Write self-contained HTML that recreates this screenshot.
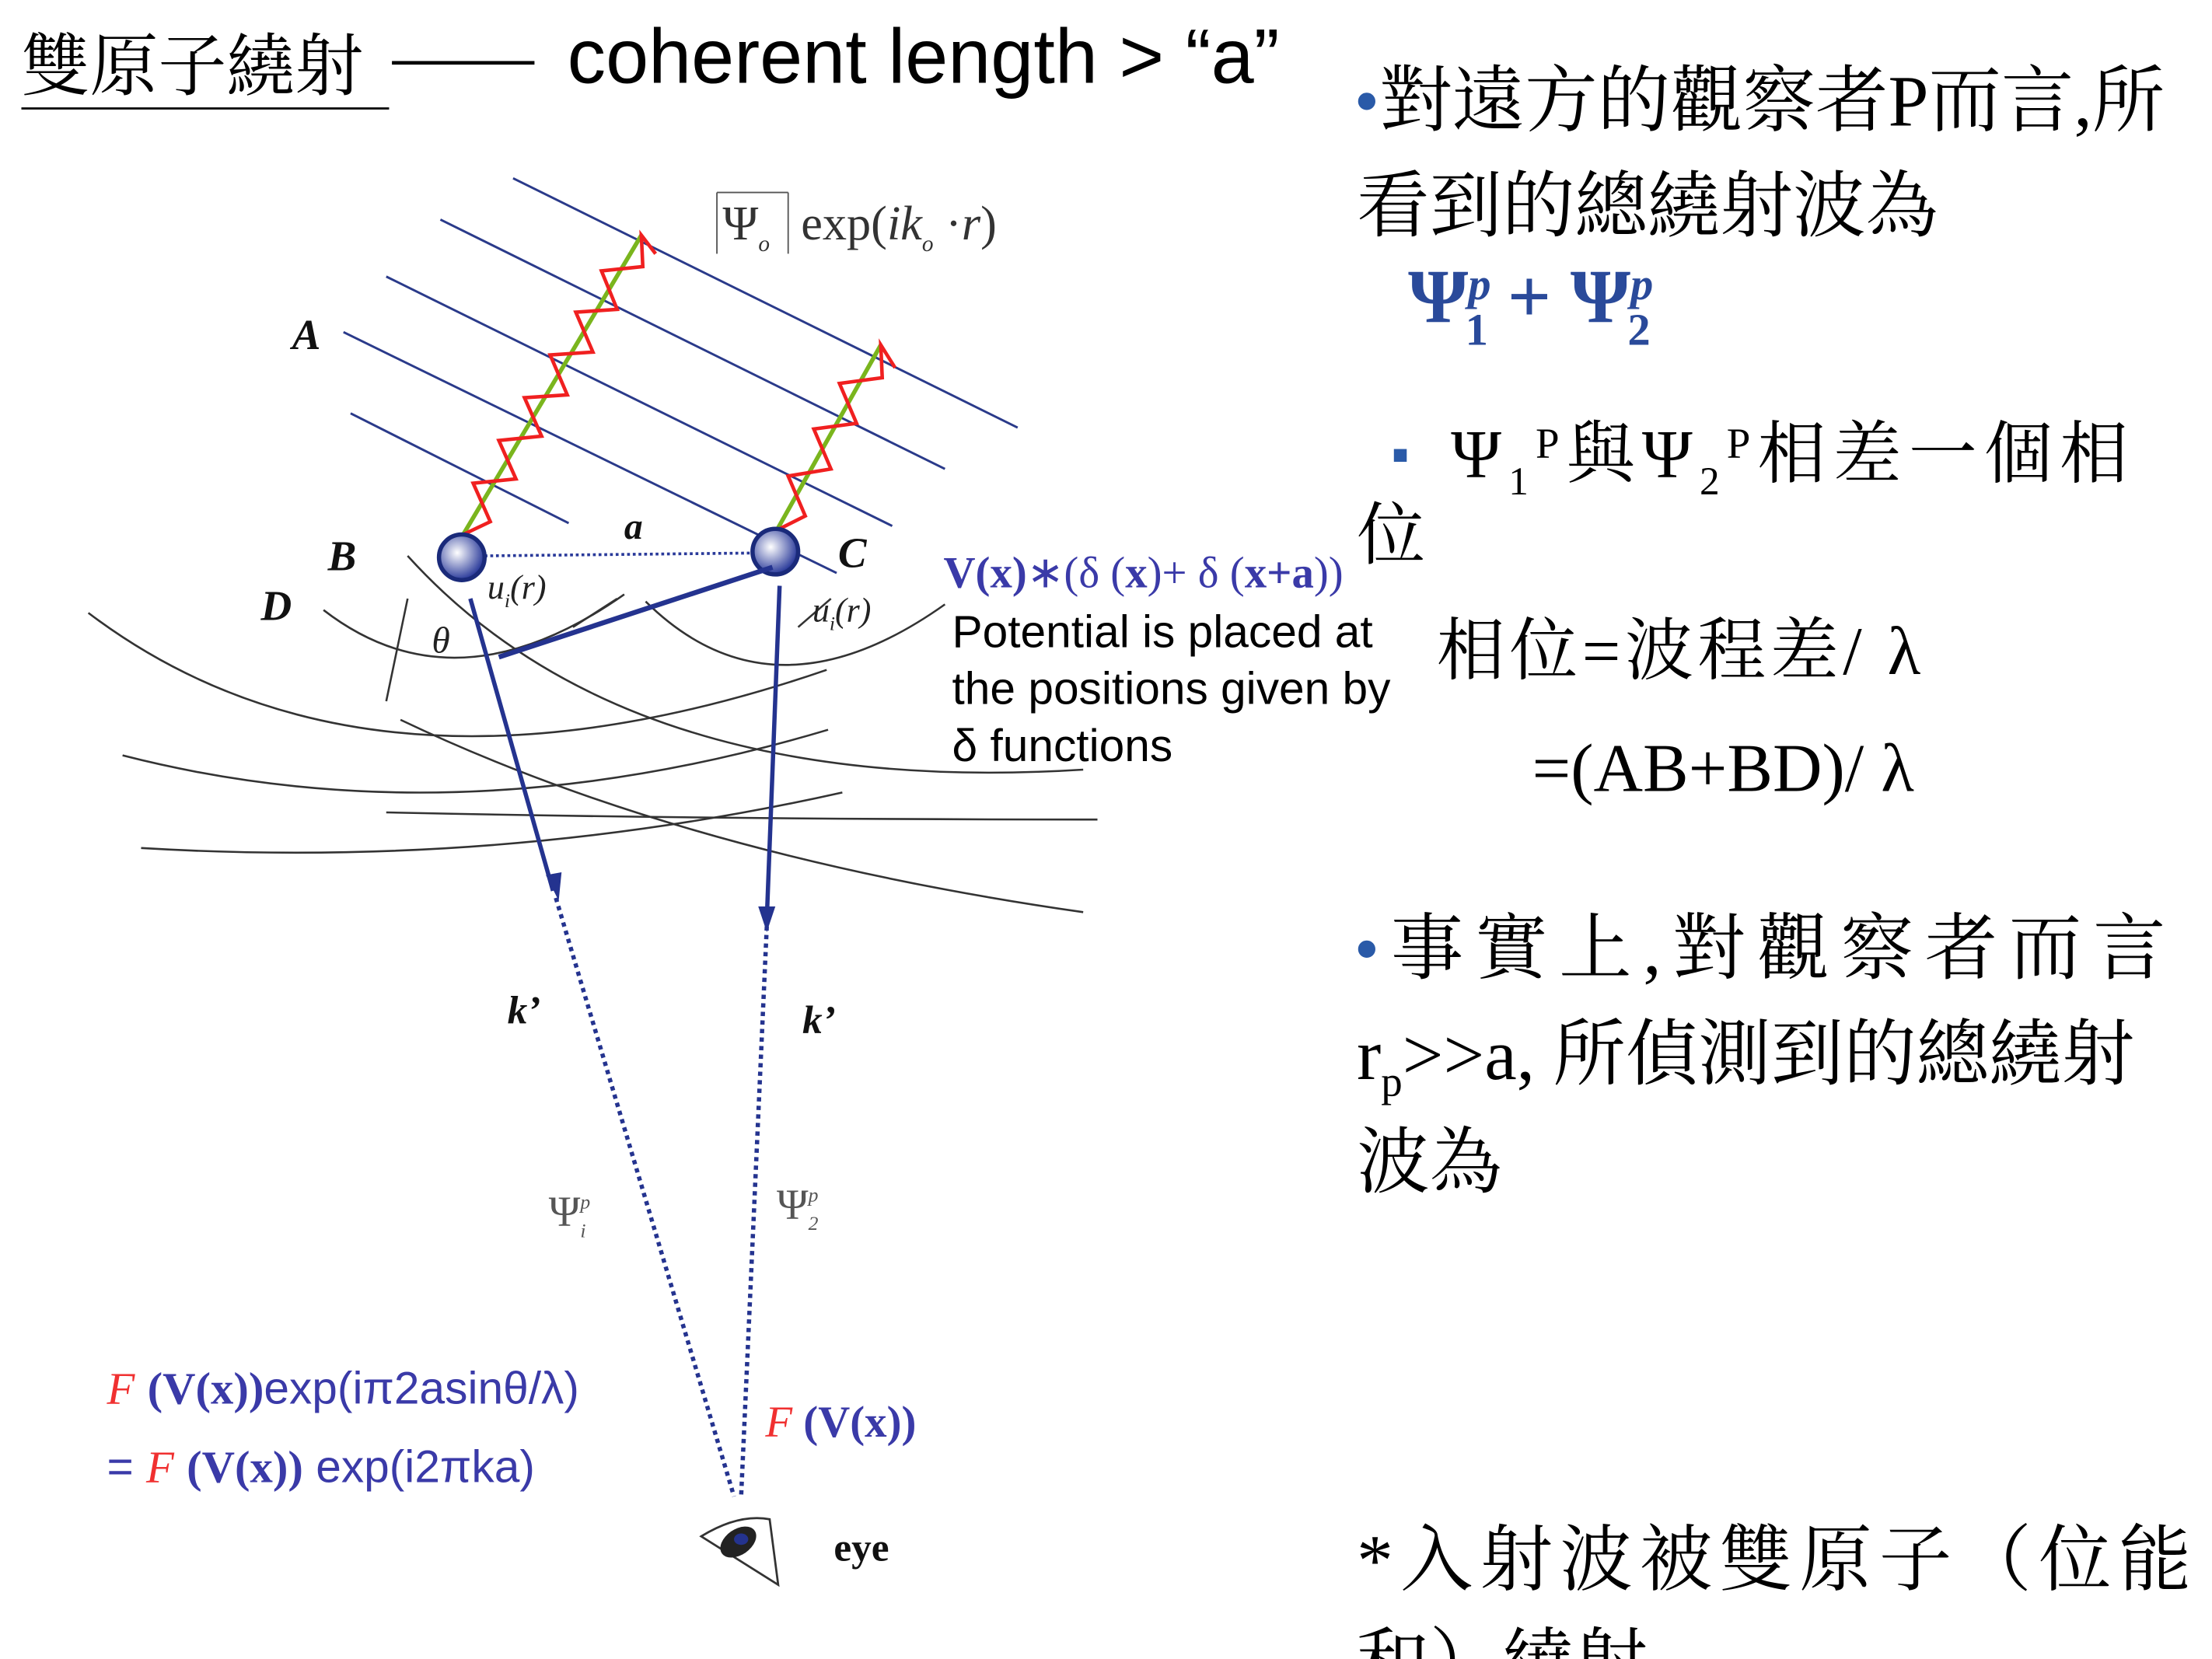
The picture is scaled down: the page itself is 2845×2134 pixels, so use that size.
<!DOCTYPE html>
<html><head><meta charset="utf-8"><style>
html,body{margin:0;padding:0;background:#fff;}
svg{display:block;}
.cj{font-family:"Liberation Serif","Noto Serif CJK SC","Noto Sans CJK TC",serif;}
.sa{font-family:"Liberation Sans",sans-serif;}
.se{font-family:"Liberation Serif",serif;}
</style></head><body>
<svg width="2845" height="2134" viewBox="0 0 1552 1164" xmlns="http://www.w3.org/2000/svg">
<rect width="1552" height="1164" fill="#fff"/>
<!-- title -->
<text x="15" y="63" class="cj" font-size="48" fill="#000">雙原子繞射</text>
<line x1="15" y1="76" x2="273" y2="76" stroke="#000" stroke-width="1.5"/>
<line x1="275" y1="44" x2="375" y2="44" stroke="#000" stroke-width="2.5"/>
<text x="398" y="58" class="sa" font-size="54" fill="#000">coherent length &gt; “a”</text>

<!-- parallel wavefronts -->
<g stroke="#2a3a8a" stroke-width="1.6">
<line x1="360" y1="125" x2="714" y2="300"/>
<line x1="309" y1="154" x2="663" y2="329"/>
<line x1="271" y1="194" x2="626" y2="369"/>
<line x1="241" y1="233" x2="587" y2="402"/>
<line x1="246" y1="290" x2="399" y2="367"/>
</g>
<!-- zigzags -->
<line x1="325" y1="375" x2="450" y2="165" stroke="#7ab51d" stroke-width="3"/>
<polyline fill="none" stroke="#f02020" stroke-width="2.5" stroke-linejoin="miter" points="325,375 344,366 332,339 362,336 350,309 380,306 368,279 398,277 386,249 416,247 404,219 433,217 422,190 451,187 450,165 460,178"/>
<line x1="545" y1="372" x2="618" y2="242" stroke="#7ab51d" stroke-width="3"/>
<polyline fill="none" stroke="#f02020" stroke-width="2.5" points="545,372 565,362 553,334 583,329 571,301 601,297 589,269 619,265 618,242 628,258"/>

<!-- arcs -->
<g fill="none" stroke="#333" stroke-width="1.4">
<path d="M62,430 Q 260,580 580,470"/>
<path d="M227,428 Q 320,500 438,417"/>
<path d="M453,422 Q 542,510 663,424"/>
<path d="M286,390 Q 440,560 760,540"/>
<path d="M281,505 Q 480,600 760,640"/>
<path d="M86,530 Q 320,590 581,512"/>
<path d="M99,595 Q 350,610 591,556"/>
<path d="M271,570 Q 500,575 770,575"/>
<line x1="286" y1="420" x2="271" y2="492"/>
<line x1="433" y1="420" x2="402" y2="440"/>
<line x1="583" y1="420" x2="560" y2="440"/>
</g>

<!-- atoms -->
<line x1="340" y1="390" x2="528" y2="388" stroke="#2a3a9a" stroke-width="2" stroke-dasharray="2,2"/>
<defs><radialGradient id="g" cx="40%" cy="40%" r="60%"><stop offset="0" stop-color="#fff"/><stop offset="1" stop-color="#2a3a9a"/></radialGradient></defs>
<circle cx="324" cy="391" r="16" fill="url(#g)" stroke="#1a2a7a" stroke-width="3"/>
<circle cx="544" cy="387" r="16" fill="url(#g)" stroke="#1a2a7a" stroke-width="3"/>

<!-- arrows -->
<g stroke="#24338f" fill="none">
<path d="M542,398 L350,461" stroke-width="3.5"/>
<line x1="330" y1="420" x2="388" y2="625" stroke-width="3"/>
<line x1="547" y1="411" x2="538" y2="645" stroke-width="3"/>
<line x1="390" y1="630" x2="515" y2="1050" stroke-width="3" stroke-dasharray="3,3"/>
<line x1="538" y1="650" x2="520" y2="1050" stroke-width="3" stroke-dasharray="3,3"/>
</g>
<polygon points="392,632 383,614 394,612" fill="#24338f"/>
<polygon points="538,654 532,636 544,636" fill="#24338f"/>

<!-- diagram labels -->
<g class="se" font-style="italic" font-weight="bold" fill="#111">
<text x="205" y="245" font-size="30">A</text>
<text x="230" y="400" font-size="30">B</text>
<text x="183" y="435" font-size="30">D</text>
<text x="438" y="378" font-size="26">a</text>
<text x="588" y="398" font-size="30">C</text>
<text x="356" y="718" font-size="28">k’</text>
<text x="563" y="725" font-size="28">k’</text>
<text x="585" y="1095" font-size="28" font-style="normal">eye</text>
</g>
<g class="se" font-style="italic" fill="#222">
<text x="303" y="458" font-size="26">θ</text>
<text x="342" y="420" font-size="24">u<tspan font-size="14" dy="6">i</tspan><tspan dy="-6">(r)</tspan></text>
<text x="570" y="436" font-size="24">u<tspan font-size="14" dy="6">i</tspan><tspan dy="-6">(r)</tspan></text>
</g>
<text x="507" y="168" class="se" font-size="34" fill="#333">Ψ<tspan font-size="16" font-style="italic" dy="8">o</tspan></text>
<text x="562" y="168" class="se" font-size="34" fill="#333">exp(<tspan font-style="italic">ik</tspan><tspan font-size="16" font-style="italic" dy="8">o</tspan><tspan dy="-8"> ·</tspan><tspan font-style="italic">r</tspan>)</text>
<line x1="503" y1="135" x2="503" y2="178" stroke="#555"/>
<line x1="553" y1="135" x2="553" y2="178" stroke="#555"/>
<line x1="503" y1="135" x2="553" y2="135" stroke="#555"/>
<text x="385" y="860" class="se" font-size="30" fill="#555">Ψ<tspan font-size="14" font-style="italic" dy="-12">p</tspan><tspan font-size="14" font-style="italic" dx="-7" dy="20">i</tspan></text>
<text x="545" y="855" class="se" font-size="30" fill="#555">Ψ<tspan font-size="14" font-style="italic" dy="-12">p</tspan><tspan font-size="14" font-style="italic" dx="-7" dy="20">2</tspan></text>

<!-- eye -->
<g transform="translate(518,1082)">
<path d="M-26,-4 Q 0,-20 22,-16 L 28,30 Z" fill="none" stroke="#333" stroke-width="1.5"/>
<ellipse cx="0" cy="0" rx="14" ry="9" fill="#222" transform="rotate(-35)"/>
<ellipse cx="2" cy="-2" rx="5" ry="4" fill="#24338f"/>
</g>

<!-- middle annotations -->
<text x="662" y="412" class="se" font-size="31" fill="#3a3aa8"><tspan font-weight="bold">V(x)</tspan>∗(δ (<tspan font-weight="bold">x</tspan>)+ δ (<tspan font-weight="bold">x+a</tspan>))</text>
<text x="668" y="454" class="sa" font-size="32" fill="#000">Potential is placed at</text>
<text x="668" y="494" class="sa" font-size="32" fill="#000">the positions given by</text>
<text x="668" y="534" class="sa" font-size="32" fill="#000">δ functions</text>

<text x="75" y="985" class="sa" font-size="32" fill="#3a3aa8"><tspan fill="#f03030" font-style="italic" class="se">F</tspan> <tspan class="se" font-weight="bold">(V(x))</tspan>exp(iπ2asinθ/λ)</text>
<text x="75" y="1040" class="sa" font-size="32" fill="#3a3aa8">= <tspan fill="#f03030" font-style="italic" class="se">F</tspan> <tspan class="se" font-weight="bold">(V(x))</tspan> exp(i2πka)</text>
<text x="537" y="1008" class="se" font-size="31" fill="#3a3aa8"><tspan fill="#f03030" font-style="italic">F</tspan> <tspan font-weight="bold">(V(x))</tspan></text>

<!-- right column -->
<g class="cj" font-size="51" fill="#000">
<text x="950" y="88"><tspan fill="#2a5aa8">•</tspan>對遠方的觀察者P而言,所</text>
<text x="952" y="162">看到的總繞射波為</text>
<text x="988" y="226" font-weight="bold" fill="#2a4a9a" font-size="54">Ψ<tspan font-size="32" font-style="italic" dy="-16">p</tspan><tspan font-size="32" dx="-18" dy="32">1</tspan><tspan dy="-16"> + Ψ</tspan><tspan font-size="32" font-style="italic" dy="-16">p</tspan><tspan font-size="32" dx="-18" dy="32">2</tspan></text>
<rect x="978" y="315" width="9" height="9" fill="#2a5aa8"/>
<text x="1018" y="335" letter-spacing="5" font-size="48">Ψ<tspan font-size="28" dy="12">1</tspan><tspan font-size="30" dy="-26">P</tspan><tspan dy="14">與Ψ</tspan><tspan font-size="28" dy="12">2</tspan><tspan font-size="30" dy="-26">P</tspan><tspan dy="14">相差一個相</tspan></text>
<text x="952" y="392" font-size="48">位</text>
<text x="1008" y="473" letter-spacing="3" font-size="48">相位=波程差/ λ</text>
<text x="1075" y="555" font-size="48">=(AB+BD)/ λ</text>
<text x="950" y="683" letter-spacing="8"><tspan fill="#2a5aa8">•</tspan>事實上,對觀察者而言</text>
<text x="952" y="757">r<tspan font-size="30" dy="12">p</tspan><tspan dy="-12">&gt;&gt;a,  所偵測到的總繞射</tspan></text>
<text x="952" y="833">波為</text>
<text x="952" y="1112" letter-spacing="5">*入射波被雙原子（位能</text>
<text x="952" y="1184">和）繞射</text>
</g>
</svg>
</body></html>
